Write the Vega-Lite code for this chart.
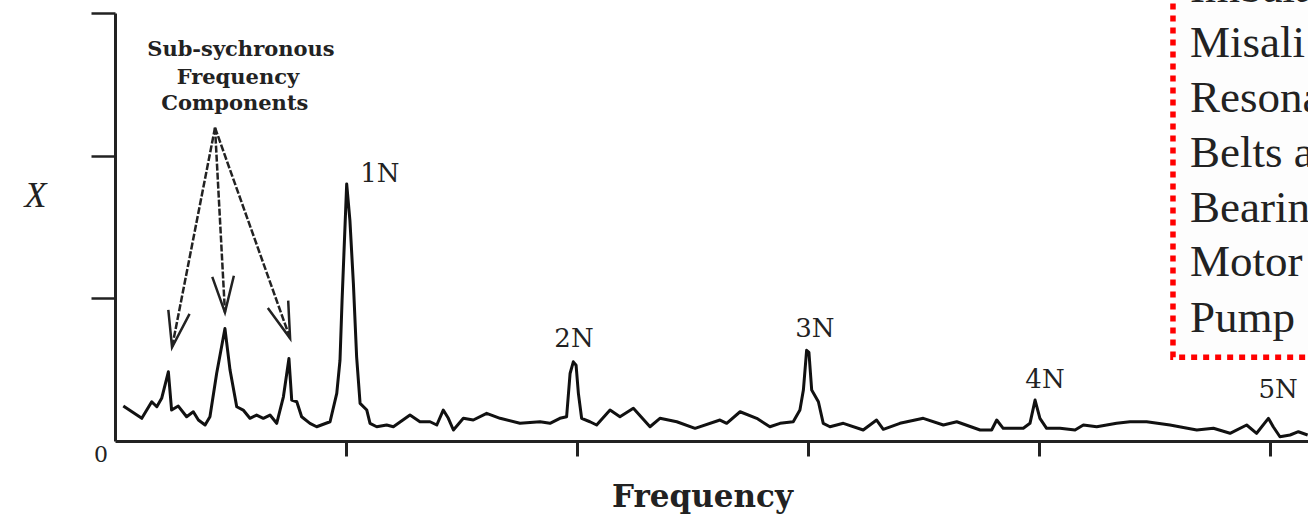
{
  "$schema": "https://vega.github.io/schema/vega-lite/v6.json",
  "width": 1193,
  "height": 428,
  "padding": {"left": 115, "top": 13, "right": 0, "bottom": 76},
  "autosize": {"type": "none"},
  "background": "white",
  "config": {"view": {"stroke": null}},
  "datasets": {
    "spectrum": [
      {"f": 0.036, "a": 0.245}, {"f": 0.116, "a": 0.159}, {"f": 0.159, "a": 0.275}, {"f": 0.181, "a": 0.240},
      {"f": 0.202, "a": 0.299}, {"f": 0.231, "a": 0.485}, {"f": 0.245, "a": 0.217}, {"f": 0.274, "a": 0.245},
      {"f": 0.310, "a": 0.170}, {"f": 0.339, "a": 0.205}, {"f": 0.361, "a": 0.147}, {"f": 0.390, "a": 0.112},
      {"f": 0.411, "a": 0.170}, {"f": 0.440, "a": 0.473}, {"f": 0.476, "a": 0.788}, {"f": 0.498, "a": 0.497},
      {"f": 0.527, "a": 0.240}, {"f": 0.555, "a": 0.217}, {"f": 0.584, "a": 0.159}, {"f": 0.613, "a": 0.182},
      {"f": 0.642, "a": 0.159}, {"f": 0.671, "a": 0.182}, {"f": 0.700, "a": 0.124}, {"f": 0.729, "a": 0.310},
      {"f": 0.753, "a": 0.578}, {"f": 0.765, "a": 0.287}, {"f": 0.787, "a": 0.275}, {"f": 0.808, "a": 0.170},
      {"f": 0.844, "a": 0.124}, {"f": 0.873, "a": 0.100}, {"f": 0.931, "a": 0.135}, {"f": 0.960, "a": 0.334},
      {"f": 0.974, "a": 0.566}, {"f": 0.983, "a": 0.986}, {"f": 1.003, "a": 1.802}, {"f": 1.017, "a": 1.545},
      {"f": 1.032, "a": 1.103}, {"f": 1.046, "a": 0.590}, {"f": 1.061, "a": 0.264}, {"f": 1.090, "a": 0.217},
      {"f": 1.104, "a": 0.124}, {"f": 1.133, "a": 0.100}, {"f": 1.176, "a": 0.112}, {"f": 1.205, "a": 0.100},
      {"f": 1.277, "a": 0.182}, {"f": 1.320, "a": 0.135}, {"f": 1.364, "a": 0.135}, {"f": 1.393, "a": 0.112},
      {"f": 1.421, "a": 0.217}, {"f": 1.443, "a": 0.159}, {"f": 1.465, "a": 0.077}, {"f": 1.508, "a": 0.159},
      {"f": 1.551, "a": 0.147}, {"f": 1.609, "a": 0.194}, {"f": 1.667, "a": 0.159}, {"f": 1.753, "a": 0.124},
      {"f": 1.840, "a": 0.135}, {"f": 1.883, "a": 0.124}, {"f": 1.926, "a": 0.159}, {"f": 1.955, "a": 0.170},
      {"f": 1.970, "a": 0.473}, {"f": 1.984, "a": 0.555}, {"f": 1.996, "a": 0.531}, {"f": 2.006, "a": 0.334},
      {"f": 2.020, "a": 0.159}, {"f": 2.056, "a": 0.135}, {"f": 2.085, "a": 0.112}, {"f": 2.143, "a": 0.217},
      {"f": 2.186, "a": 0.170}, {"f": 2.244, "a": 0.229}, {"f": 2.316, "a": 0.100}, {"f": 2.359, "a": 0.159},
      {"f": 2.432, "a": 0.135}, {"f": 2.511, "a": 0.089}, {"f": 2.619, "a": 0.147}, {"f": 2.648, "a": 0.124},
      {"f": 2.706, "a": 0.205}, {"f": 2.778, "a": 0.159}, {"f": 2.835, "a": 0.100}, {"f": 2.879, "a": 0.124},
      {"f": 2.936, "a": 0.135}, {"f": 2.965, "a": 0.217}, {"f": 2.980, "a": 0.357}, {"f": 2.994, "a": 0.636},
      {"f": 3.004, "a": 0.622}, {"f": 3.016, "a": 0.357}, {"f": 3.045, "a": 0.275}, {"f": 3.066, "a": 0.124},
      {"f": 3.095, "a": 0.100}, {"f": 3.153, "a": 0.124}, {"f": 3.239, "a": 0.077}, {"f": 3.297, "a": 0.147},
      {"f": 3.326, "a": 0.082}, {"f": 3.398, "a": 0.124}, {"f": 3.499, "a": 0.159}, {"f": 3.586, "a": 0.112},
      {"f": 3.644, "a": 0.135}, {"f": 3.745, "a": 0.077}, {"f": 3.795, "a": 0.077}, {"f": 3.817, "a": 0.147},
      {"f": 3.845, "a": 0.089}, {"f": 3.932, "a": 0.089}, {"f": 3.961, "a": 0.124}, {"f": 3.983, "a": 0.287},
      {"f": 4.004, "a": 0.159}, {"f": 4.033, "a": 0.089}, {"f": 4.091, "a": 0.089}, {"f": 4.156, "a": 0.077},
      {"f": 4.192, "a": 0.112}, {"f": 4.250, "a": 0.100}, {"f": 4.336, "a": 0.124}, {"f": 4.394, "a": 0.135},
      {"f": 4.466, "a": 0.135}, {"f": 4.567, "a": 0.112}, {"f": 4.683, "a": 0.077}, {"f": 4.755, "a": 0.089},
      {"f": 4.827, "a": 0.054}, {"f": 4.899, "a": 0.112}, {"f": 4.942, "a": 0.054}, {"f": 4.993, "a": 0.159},
      {"f": 5.014, "a": 0.100}, {"f": 5.043, "a": 0.030}, {"f": 5.087, "a": 0.042}, {"f": 5.123, "a": 0.065},
      {"f": 5.163, "a": 0.042}
    ],
    "peaks": [
      {"f": 1.147, "a": 1.874, "label": "1N"},
      {"f": 1.987, "a": 0.713, "label": "2N"},
      {"f": 3.030, "a": 0.783, "label": "3N"},
      {"f": 4.026, "a": 0.427, "label": "4N"},
      {"f": 5.035, "a": 0.357, "label": "5N"}
    ],
    "arrows": [
      {"arrow": "left", "f": 0.433, "a": 2.196, "f2": 0.247, "a2": 0.657},
      {"arrow": "middle", "f": 0.433, "a": 2.196, "f2": 0.476, "a2": 0.902},
      {"arrow": "right", "f": 0.433, "a": 2.196, "f2": 0.758, "a2": 0.720}
    ],
    "subtext": [
      {"f": 0.545, "a": 2.741, "text": "Sub-sychronous"},
      {"f": 0.532, "a": 2.545, "text": "Frequency"},
      {"f": 0.519, "a": 2.364, "text": "Components"}
    ],
    "box": [
      {"f": 4.580, "f2": 5.40, "a": 0.587, "a2": 3.40}
    ],
    "boxtext": [
      {"f": 4.654, "a": 3.077, "text": "Imbala"},
      {"f": 4.654, "a": 2.692, "text": "Misali"},
      {"f": 4.654, "a": 2.308, "text": "Resona"},
      {"f": 4.654, "a": 1.923, "text": "Belts a"},
      {"f": 4.654, "a": 1.538, "text": "Bearin"},
      {"f": 4.654, "a": 1.154, "text": "Motor"},
      {"f": 4.654, "a": 0.762, "text": "Pump"}
    ],
    "zero": [
      {"f": -0.061, "a": -0.098, "text": "0"}
    ]
  },
  "layer": [
    {
      "data": {"name": "box"},
      "mark": {"type": "rect", "fill": "#fdfdfd", "stroke": "#ff0000", "strokeWidth": 5.5, "strokeDash": [6, 6]},
      "encoding": {
        "x": {"field": "f", "type": "quantitative", "scale": {"domain": [0, 5.1645], "nice": false, "zero": false},
          "axis": {"values": [1, 2, 3, 4, 5], "labels": false, "grid": false, "domainColor": "#222", "domainWidth": 3,
            "tickColor": "#222", "tickWidth": 3, "tickSize": 15, "title": "Frequency", "titleFont": "DejaVu Serif",
            "titleFontWeight": "bold", "titleFontSize": 31, "titleColor": "#222", "titleX": 587, "titleY": 56,
            "titleBaseline": "middle", "titleAlign": "center"}},
        "x2": {"field": "f2"},
        "y": {"field": "a", "type": "quantitative", "scale": {"domain": [0, 3], "nice": false, "zero": false},
          "axis": {"values": [1, 2, 3], "labels": false, "grid": false, "domainColor": "#222", "domainWidth": 3,
            "tickColor": "#222", "tickWidth": 2.5, "tickSize": 24, "title": "X", "titleFont": "Liberation Serif",
            "titleFontStyle": "italic", "titleFontWeight": "normal", "titleFontSize": 36, "titleColor": "#222",
            "titleAngle": 0, "titleX": -80, "titleY": 182, "titleBaseline": "middle", "titleAlign": "center"}},
        "y2": {"field": "a2"}
      }
    },
    {
      "data": {"name": "boxtext"},
      "mark": {"type": "text", "font": "Liberation Serif", "fontSize": 45, "color": "#222", "align": "left", "baseline": "alphabetic"},
      "encoding": {
        "x": {"field": "f", "type": "quantitative"},
        "y": {"field": "a", "type": "quantitative"},
        "text": {"field": "text"}
      }
    },
    {
      "data": {"name": "spectrum"},
      "mark": {"type": "line", "color": "#111", "strokeWidth": 3, "strokeJoin": "round"},
      "encoding": {
        "x": {"field": "f", "type": "quantitative"},
        "y": {"field": "a", "type": "quantitative"}
      }
    },
    {
      "data": {"name": "peaks"},
      "mark": {"type": "text", "font": "DejaVu Serif", "fontSize": 26, "color": "#222", "align": "center", "baseline": "middle"},
      "encoding": {
        "x": {"field": "f", "type": "quantitative"},
        "y": {"field": "a", "type": "quantitative"},
        "text": {"field": "label"}
      }
    },
    {
      "data": {"name": "subtext"},
      "mark": {"type": "text", "font": "DejaVu Serif", "fontWeight": "bold", "fontSize": 21, "color": "#222", "align": "center", "baseline": "middle"},
      "encoding": {
        "x": {"field": "f", "type": "quantitative"},
        "y": {"field": "a", "type": "quantitative"},
        "text": {"field": "text"}
      }
    },
    {
      "data": {"name": "arrows"},
      "mark": {"type": "rule", "color": "#222", "strokeWidth": 2.5, "strokeDash": [7, 2]},
      "encoding": {
        "x": {"field": "f", "type": "quantitative"},
        "y": {"field": "a", "type": "quantitative"},
        "x2": {"field": "f2"},
        "y2": {"field": "a2"}
      }
    },
    {
      "data": {"name": "arrows"},
      "transform": [{"filter": "datum.arrow === 'left'"}],
      "mark": {"type": "point", "shape": "M -0.6 -2 L 0 0 L 0.6 -2", "filled": false, "stroke": "#222", "strokeWidth": 2.5, "size": 1300, "angle": 11, "opacity": 1},
      "encoding": {
        "x": {"field": "f2", "type": "quantitative"},
        "y": {"field": "a2", "type": "quantitative"}
      }
    },
    {
      "data": {"name": "arrows"},
      "transform": [{"filter": "datum.arrow === 'middle'"}],
      "mark": {"type": "point", "shape": "M -0.6 -2 L 0 0 L 0.6 -2", "filled": false, "stroke": "#222", "strokeWidth": 2.5, "size": 1300, "angle": -3, "opacity": 1},
      "encoding": {
        "x": {"field": "f2", "type": "quantitative"},
        "y": {"field": "a2", "type": "quantitative"}
      }
    },
    {
      "data": {"name": "arrows"},
      "transform": [{"filter": "datum.arrow === 'right'"}],
      "mark": {"type": "point", "shape": "M -0.6 -2 L 0 0 L 0.6 -2", "filled": false, "stroke": "#222", "strokeWidth": 2.5, "size": 1300, "angle": -19.6, "opacity": 1},
      "encoding": {
        "x": {"field": "f2", "type": "quantitative"},
        "y": {"field": "a2", "type": "quantitative"}
      }
    },
    {
      "data": {"name": "zero"},
      "mark": {"type": "text", "font": "DejaVu Serif", "fontSize": 22, "color": "#222", "align": "center", "baseline": "middle"},
      "encoding": {
        "x": {"field": "f", "type": "quantitative"},
        "y": {"field": "a", "type": "quantitative"},
        "text": {"field": "text"}
      }
    }
  ]
}
